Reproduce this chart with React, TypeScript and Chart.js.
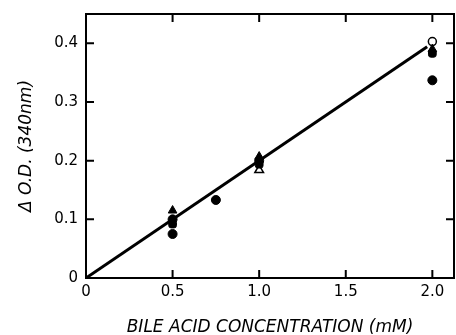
import React, { useEffect, useRef } from "react";
import { Chart, registerables } from "chart.js";

Chart.register(...registerables);

const xTicks = [0, 0.5, 1.0, 1.5, 2.0];
const xTickLabels = ["0", "0.5", "1.0", "1.5", "2.0"];
const yTicks = [0, 0.1, 0.2, 0.3, 0.4];
const yTickLabels = ["0", "0.1", "0.2", "0.3", "0.4"];

const filledCircleX = [0.5, 0.5, 0.75, 1.0, 2.0];
const filledCircleY = [0.075, 0.1, 0.133, 0.2, 0.337];
const filledTriangleX = [0.5, 1.0, 2.0];
const filledTriangleY = [0.115, 0.207, 0.39];
const filledSquareX = [0.5, 1.0, 2.0];
const filledSquareY = [0.092, 0.194, 0.383];
const openTriangleX = [1.0];
const openTriangleY = [0.184];
const openCircleX = [2.0];
const openCircleY = [0.403];
const fitLineX = [0, 1.97];
const fitLineY = [0, 0.394];

const pts = (xs: number[], ys: number[]) => xs.map((x, i) => ({ x, y: ys[i] }));

const framePlugin = {
  id: "frame",
  afterDatasetsDraw(chart: any) {
    const { ctx, chartArea: a, scales } = chart;
    ctx.save();
    ctx.strokeStyle = "#000";
    ctx.lineWidth = 2;
    ctx.strokeRect(a.left, a.top, a.right - a.left, a.bottom - a.top);
    const L = 8;
    ctx.beginPath();
    xTicks.forEach((v) => {
      const px = scales.x.getPixelForValue(v);
      if (v > 0) {
        ctx.moveTo(px, a.bottom);
        ctx.lineTo(px, a.bottom - L);
        ctx.moveTo(px, a.top);
        ctx.lineTo(px, a.top + L);
      }
    });
    yTicks.forEach((v) => {
      const py = scales.y.getPixelForValue(v);
      if (v > 0) {
        ctx.moveTo(a.left, py);
        ctx.lineTo(a.left + L, py);
        ctx.moveTo(a.right, py);
        ctx.lineTo(a.right - L, py);
      }
    });
    ctx.stroke();
    ctx.restore();
  },
};

export default function App() {
  const ref = useRef<HTMLCanvasElement>(null);
  useEffect(() => {
    if (!ref.current) return;
    const font = { family: "DejaVu Sans", size: 15 };
    const titleFont = { family: "DejaVu Sans", size: 17, style: "italic" as const, lineHeight: 1 };
    const chart = new Chart(ref.current, {
      type: "scatter",
      data: {
        datasets: [
          {
            type: "line",
            data: pts(fitLineX, fitLineY),
            borderColor: "#000",
            borderWidth: 3,
            pointRadius: 0,
            showLine: true,
            order: 10,
          } as any,
          {
            data: pts(filledCircleX, filledCircleY),
            pointStyle: "circle",
            pointRadius: 4.5,
            backgroundColor: "#000",
            borderColor: "#000",
          },
          {
            data: pts(filledTriangleX, filledTriangleY),
            pointStyle: "triangle",
            pointRadius: 5,
            backgroundColor: "#000",
            borderColor: "#000",
          },
          {
            data: pts(filledSquareX, filledSquareY),
            pointStyle: "rectRounded",
            pointRadius: 4.5,
            backgroundColor: "#000",
            borderColor: "#000",
          },
          {
            data: pts(openTriangleX, openTriangleY),
            pointStyle: "triangle",
            pointRadius: 5,
            backgroundColor: "#fff",
            borderColor: "#000",
            borderWidth: 1.5,
          },
          {
            data: pts(openCircleX, openCircleY),
            pointStyle: "circle",
            pointRadius: 4,
            backgroundColor: "#fff",
            borderColor: "#000",
            borderWidth: 1.5,
          },
        ],
      },
      options: {
        animation: false,
        responsive: false,
        maintainAspectRatio: false,
        layout: { autoPadding: false, padding: { top: 14, right: 2, left: 0, bottom: 0 } },
        plugins: { legend: { display: false }, tooltip: { enabled: false } },
        scales: {
          x: {
            type: "linear",
            min: 0,
            max: 2.125,
            afterBuildTicks: (s: any) => {
              s.ticks = xTicks.map((v) => ({ value: v }));
            },
            afterFit: (s: any) => {
              s.height = 57;
              s.paddingLeft = 0;
              s.paddingRight = 0;
            },
            grid: { display: false, drawTicks: false },
            border: { display: false },
            ticks: {
              color: "#000",
              font,
              padding: 5,
              maxRotation: 0,
              autoSkip: false,
              callback: (v: any) => {
                const i = xTicks.indexOf(Number(v));
                return i >= 0 ? xTickLabels[i] : "";
              },
            },
            title: {
              display: true,
              text: "BILE ACID CONCENTRATION (mM)",
              color: "#000",
              font: titleFont,
              padding: { top: 0, bottom: -1 },
            },
          },
          y: {
            type: "linear",
            min: 0,
            max: 0.45,
            afterBuildTicks: (s: any) => {
              s.ticks = yTicks.map((v) => ({ value: v }));
            },
            afterFit: (s: any) => {
              s.width = 86;
              s.paddingTop = 0;
              s.paddingBottom = 0;
            },
            grid: { display: false, drawTicks: false },
            border: { display: false },
            ticks: {
              color: "#000",
              font,
              padding: 8,
              autoSkip: false,
              callback: (v: any) => {
                const i = yTicks.findIndex((t) => Math.abs(t - Number(v)) < 1e-9);
                return i >= 0 ? yTickLabels[i] : "";
              },
            },
            title: {
              display: true,
              text: "Δ O.D. (340nm)",
              color: "#000",
              font: titleFont,
              padding: { top: 18, bottom: 0 },
            },
          },
        },
      },
      plugins: [framePlugin],
    });
    return () => chart.destroy();
  }, []);
  return (
    <div style={{ position: "fixed", left: 0, top: 0, width: 456, height: 335, background: "#fff" }}>
      <canvas ref={ref} width={456} height={335} style={{ width: 456, height: 335 }} />
    </div>
  );
}
